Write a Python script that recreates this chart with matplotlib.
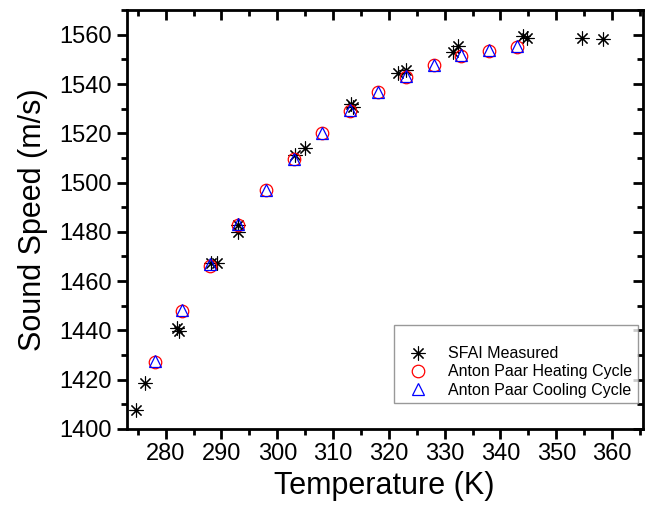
import matplotlib
matplotlib.use("Agg")
import matplotlib.pyplot as plt

plt.rcParams['font.family'] = ['Liberation Sans', 'DejaVu Sans']

# SFAI measured points
sfai_T = [274.6, 276.3, 282.0, 282.4, 288.1, 289.2, 293.0, 293.0, 303.1, 304.9,
          313.2, 313.6, 321.6, 323.0, 331.5, 332.4, 344.1, 344.8, 354.6, 358.3]
sfai_v = [1407.6, 1418.6, 1440.9, 1439.7, 1467.2, 1467.5, 1482.9, 1479.8, 1511.1, 1514.2,
          1531.7, 1530.6, 1544.3, 1545.6, 1553.0, 1555.3, 1559.4, 1558.7, 1558.7, 1558.3]

# Anton Paar heating / cooling
ap_T = [278, 283, 288, 293, 298, 303, 308, 313, 318, 323, 328, 333, 338, 343]
heat_v = [1427.3, 1447.8, 1466.3, 1482.7, 1496.8, 1509.4, 1520.1, 1528.9,
          1536.6, 1542.7, 1547.7, 1551.3, 1553.6, 1555.0]
cool_v = [1427.6, 1448.1, 1466.8, 1483.2, 1497.1, 1509.7, 1520.3, 1529.5,
          1536.8, 1543.2, 1547.9, 1551.6, 1553.9, 1555.3]

fig = plt.figure(figsize=(6.46, 5.08), dpi=100)
ax = fig.add_axes([0.196, 0.156, 0.799, 0.824])

ax.plot(sfai_T, sfai_v, linestyle='none', marker=(8, 2, 0), markersize=10,
        markeredgewidth=0.8, color='black', label='SFAI Measured')
ax.plot(ap_T, heat_v, linestyle='none', marker='o', markersize=9,
        markerfacecolor='none', markeredgecolor='red', markeredgewidth=0.9,
        label='Anton Paar Heating Cycle')
ax.plot(ap_T, cool_v, linestyle='none', marker='^', markersize=8,
        markerfacecolor='none', markeredgecolor='blue', markeredgewidth=0.9,
        label='Anton Paar Cooling Cycle')

ax.set_xlim(273, 365.5)
ax.set_ylim(1400, 1570)
ax.set_xticks(range(280, 361, 10))
ax.set_xticks(range(275, 366, 5), minor=True)
ax.set_yticks(range(1400, 1561, 20))
ax.set_yticks(range(1400, 1571, 10), minor=True)

for s in ax.spines.values():
    s.set_linewidth(2)
ax.tick_params(which='major', direction='out', length=7, width=2, labelsize=17)
ax.tick_params(which='minor', direction='out', length=4, width=2)

# mirrored ticks pointing inward on top and right
top = ax.secondary_xaxis('top')
top.set_xticks(range(280, 361, 10))
top.set_xticks(range(275, 366, 5), minor=True)
top.tick_params(which='major', direction='in', length=7, width=2, labeltop=False)
top.tick_params(which='minor', direction='in', length=4, width=2)
right = ax.secondary_yaxis('right')
right.set_yticks(range(1400, 1561, 20))
right.set_yticks(range(1400, 1571, 10), minor=True)
right.tick_params(which='major', direction='in', length=7, width=2, labelright=False)
right.tick_params(which='minor', direction='in', length=4, width=2)

ax.set_xlabel('Temperature (K)', fontsize=22, labelpad=4)
ax.set_ylabel('Sound Speed (m/s)', fontsize=22, labelpad=8)

leg = ax.legend(loc='lower right', bbox_to_anchor=(0.990, 0.061), borderaxespad=0,
                fontsize=11.5, title=' ', title_fontsize=9, fancybox=False,
                edgecolor='gray', handletextpad=0.8, labelspacing=0.2,
                borderpad=0.35, handlelength=2.2)
leg.get_frame().set_linewidth(1.0)

fig.savefig('out.png', dpi=100)
